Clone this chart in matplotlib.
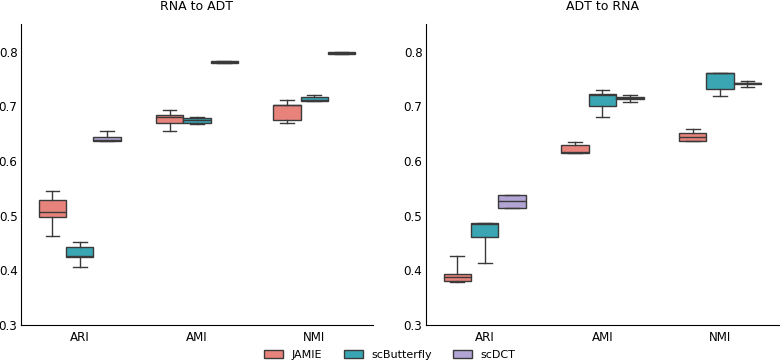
import matplotlib
matplotlib.use("Agg")
import matplotlib.pyplot as plt
from matplotlib.patches import Patch

metrics = ["ARI", "AMI", "NMI"]
methods = ["JAMIE", "scButterfly", "scDCT"]
colors = ["#E8837B", "#3AA5B3", "#B2A4D4"]
titles = ["RNA to ADT", "ADT to RNA"]

# stats per panel -> method -> metric : (whislo, q1, med, q3, whishi)
rna_to_adt = {
    "JAMIE":       [(0.462, 0.498, 0.506, 0.528, 0.546),
                    (0.655, 0.670, 0.680, 0.684, 0.694),
                    (0.670, 0.675, 0.7015, 0.703, 0.711)],
    "scButterfly": [(0.407, 0.424, 0.426, 0.443, 0.452),
                    (0.667, 0.669, 0.675, 0.678, 0.680),
                    (0.709, 0.709, 0.712, 0.717, 0.720)],
    "scDCT":       [(0.636, 0.636, 0.639, 0.644, 0.655),
                    (0.779, 0.779, 0.781, 0.783, 0.783),
                    (0.796, 0.796, 0.798, 0.800, 0.800)],
}
adt_to_rna = {
    "JAMIE":       [(0.3785, 0.381, 0.388, 0.394, 0.427),
                    (0.615, 0.615, 0.616, 0.629, 0.635),
                    (0.637, 0.637, 0.644, 0.652, 0.658)],
    "scButterfly": [(0.414, 0.461, 0.485, 0.486, 0.486),
                    (0.680, 0.701, 0.720, 0.722, 0.729),
                    (0.718, 0.732, 0.761, 0.761, 0.761)],
    "scDCT":       [(0.5135, 0.5135, 0.526, 0.537, 0.538),
                    (0.708, 0.714, 0.7155, 0.717, 0.720),
                    (0.735, 0.7415, 0.742, 0.7425, 0.746)],
}
panels = [rna_to_adt, adt_to_rna]

fig = plt.figure(figsize=(7.8, 3.62), dpi=100)
axes = [fig.add_axes([0.027, 0.102, 0.451, 0.831]),
        fig.add_axes([0.546, 0.102, 0.4526, 0.831])]

edge = "#3a3a3a"
width = 0.233
offsets = [-0.233, 0.0, 0.233]
for ax, data, title in zip(axes, panels, titles):
    for mi, (method, col) in enumerate(zip(methods, colors)):
        stats = []
        for (lo, q1, med, q3, hi) in data[method]:
            stats.append(dict(whislo=lo, q1=q1, med=med, q3=q3, whishi=hi, fliers=[]))
        pos = [i + offsets[mi] for i in range(len(metrics))]
        ax.bxp(stats, positions=pos, widths=width, patch_artist=True,
               showfliers=False, manage_ticks=False,
               boxprops=dict(facecolor=col, edgecolor=edge, linewidth=1.0),
               medianprops=dict(color=edge, linewidth=1.0),
               whiskerprops=dict(color=edge, linewidth=1.0),
               capprops=dict(color=edge, linewidth=1.0))
    ax.set_xlim(-0.5, 2.5)
    ax.set_ylim(0.3, 0.85)
    ax.set_xticks(range(len(metrics)))
    ax.set_xticklabels(metrics)
    ax.set_yticks([0.3, 0.4, 0.5, 0.6, 0.7, 0.8])
    ax.tick_params(length=0, labelsize=8.6)
    ax.tick_params(axis="y", pad=2.5)
    ax.tick_params(axis="x", pad=4)
    ax.spines["top"].set_visible(False)
    ax.spines["right"].set_visible(False)
    ax.set_title(title, fontsize=9, pad=10)

handles = [Patch(facecolor=c, edgecolor=edge, label=m) for m, c in zip(methods, colors)]
fig.legend(handles=handles, loc="lower center", ncol=3, frameon=False,
           bbox_to_anchor=(0.5, -0.022), fontsize=8, handlelength=1.7,
           handleheight=0.8, columnspacing=1.9)

fig.savefig("out.png", dpi=100)
